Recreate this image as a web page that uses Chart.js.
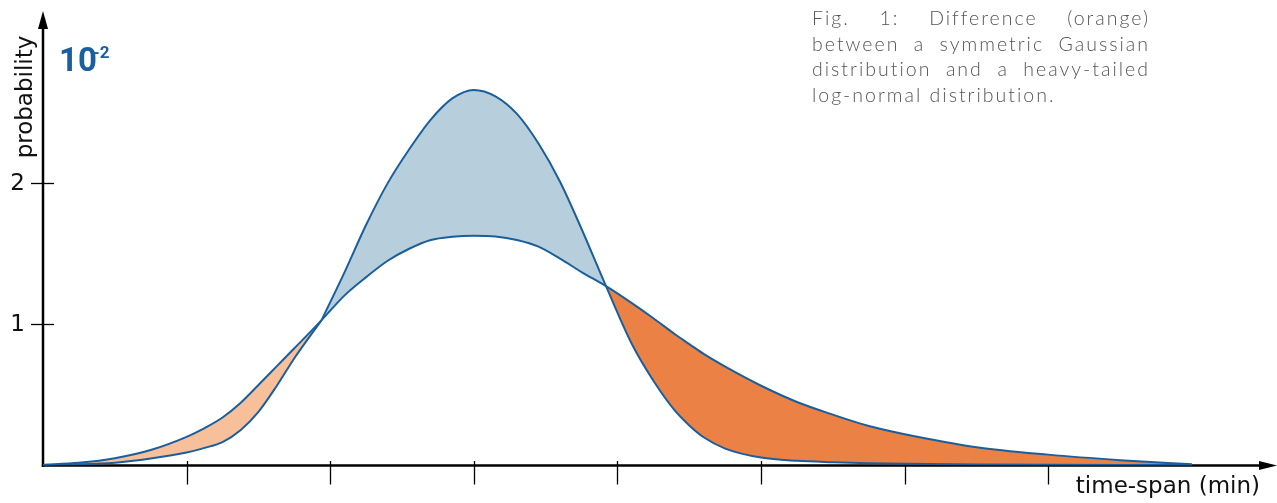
<!DOCTYPE html>
<html>
<head>
<meta charset="utf-8">
<script src="https://cdn.jsdelivr.net/npm/chart.js@4.4.1/dist/chart.umd.min.js"></script>
<style>
  html, body { margin: 0; padding: 0; background: #fff; }
  #wrap { position: relative; width: 1277px; height: 503px; }
  #caption { position: absolute; left: 812px; top: 5px; width: 338px; font: 300 19.5px 'Lato', 'Open Sans', sans-serif; letter-spacing: 2px; line-height: 25.7px; color: #555; }
  #caption div { text-align: justify; text-align-last: justify; white-space: nowrap; }
  #caption div.last { text-align-last: left; }
</style>
</head>
<body>
<div id="wrap">
  <canvas id="chart" width="1277" height="503"></canvas>
  <div id="caption">
    <div>Fig. 1: Difference (orange)</div>
    <div>between a symmetric Gaussian</div>
    <div>distribution and a heavy-tailed</div>
    <div class="last">log-normal distribution.</div>
  </div>
</div>
<script>
// time-span (axis units) sampled along both curves
const xs = [0, 0.25, 0.5, 0.75, 1.0, 1.125, 1.25, 1.375, 1.5, 1.625, 1.75, 1.94, 2.1, 2.25, 2.4, 2.55, 2.7, 2.85, 3.0,
  3.15, 3.3, 3.45, 3.6, 3.75, 3.92, 4.1, 4.25, 4.4, 4.5, 4.6, 4.75, 5.0, 5.25, 5.5, 5.75, 6.0, 6.5, 7.0, 7.5, 8.0];

// heavy-tailed log-normal (wide) curve, in 10^-2
const wideVals = [0.005, 0.02, 0.052, 0.11, 0.203, 0.265, 0.34, 0.443, 0.57, 0.70, 0.83, 1.03, 1.205, 1.334, 1.45, 1.535, 1.597, 1.62, 1.627,
  1.622, 1.597, 1.55, 1.465, 1.37, 1.27, 1.15, 1.043, 0.93, 0.86, 0.79, 0.70, 0.565, 0.45, 0.36, 0.28, 0.222, 0.13, 0.077, 0.038, 0.008];

// symmetric Gaussian (narrow) curve, in 10^-2
const narrowVals = [0.004, 0.008, 0.02, 0.05, 0.092, 0.125, 0.166, 0.25, 0.38, 0.56, 0.76, 1.03, 1.37, 1.705, 2.0, 2.24, 2.45, 2.6, 2.66,
  2.615, 2.49, 2.28, 2.01, 1.675, 1.27, 0.86, 0.6, 0.388, 0.284, 0.2, 0.12, 0.056, 0.033, 0.023, 0.016, 0.012, 0.007, 0.005, 0.004, 0.004];

const crossLeft = 1.94;
const yTicks = [1, 2];
const xTicks = [1, 2, 3, 4, 5, 6, 7];

const lineColor = '#1a5f9c';
const blueFill = '#b7cfdc';
const lightOrange = '#f8c09a';
const darkOrange = '#ec8145';
const labelFont = "400 23px 'DejaVu Sans', sans-serif";

const pts = (vals, keep) => xs.map((x, i) => ({ x: x, y: keep(x) ? vals[i] : null }));

const axesPlugin = {
  id: 'axes',
  beforeDatasetsDraw(chart) {
    const { ctx, scales: { x, y } } = chart;
    const x0 = x.getPixelForValue(0);
    const y0 = y.getPixelForValue(0);
    ctx.save();
    ctx.strokeStyle = '#000';
    ctx.fillStyle = '#000';
    ctx.lineWidth = 2.5;
    // y axis
    ctx.beginPath();
    ctx.moveTo(x0, y0 + 1.2);
    ctx.lineTo(x0, 26);
    ctx.stroke();
    ctx.beginPath();
    ctx.moveTo(x0, 11);
    ctx.lineTo(x0 - 5, 29);
    ctx.lineTo(x0 + 5, 29);
    ctx.closePath();
    ctx.fill();
    // x axis
    ctx.beginPath();
    ctx.moveTo(x0 - 1.2, y0);
    ctx.lineTo(1262, y0);
    ctx.stroke();
    ctx.beginPath();
    ctx.moveTo(1277, y0);
    ctx.lineTo(1259, y0 - 4.5);
    ctx.lineTo(1259, y0 + 4.5);
    ctx.closePath();
    ctx.fill();
    // ticks
    ctx.lineWidth = 1.3;
    xTicks.forEach(v => {
      const px = Math.round(x.getPixelForValue(v)) + 0.5;
      ctx.beginPath();
      ctx.moveTo(px, y0 - 4.5);
      ctx.lineTo(px, y0 + 19);
      ctx.stroke();
    });
    yTicks.forEach(v => {
      const py = Math.round(y.getPixelForValue(v)) + 0.5;
      ctx.beginPath();
      ctx.moveTo(31, py);
      ctx.lineTo(54, py);
      ctx.stroke();
    });
    ctx.restore();
  },
  afterDraw(chart) {
    const { ctx, scales: { y } } = chart;
    ctx.save();
    ctx.fillStyle = '#111';
    ctx.font = labelFont;
    ctx.textAlign = 'right';
    ctx.textBaseline = 'middle';
    yTicks.forEach(v => ctx.fillText(String(v), 25, y.getPixelForValue(v) + 1));
    // axis titles
    ctx.textBaseline = 'alphabetic';
    ctx.fillText('time-span (min)', 1260, 493);
    ctx.save();
    ctx.translate(32, 97);
    ctx.rotate(-Math.PI / 2);
    ctx.textAlign = 'center';
    ctx.fillText('probability', 0, 0);
    ctx.restore();
    // unit marker 10^-2
    ctx.fillStyle = '#1b5ea0';
    ctx.textAlign = 'left';
    ctx.font = "bold 33px 'Liberation Sans Narrow', 'Roboto', sans-serif";
    ctx.fillText('10', 59, 71);
    ctx.font = "bold 17px 'Liberation Sans Narrow', 'Roboto', sans-serif";
    ctx.fillText('-2', 93, 58);
    ctx.restore();
  }
};

new Chart(document.getElementById('chart'), {
  type: 'line',
  data: {
    datasets: [
      {
        label: 'log-normal',
        data: pts(wideVals, () => true),
        borderColor: lineColor,
        borderWidth: 2,
        fill: false
      },
      {
        label: 'Gaussian (right)',
        data: pts(narrowVals, x => x >= crossLeft),
        borderColor: lineColor,
        borderWidth: 2,
        fill: { target: 0, above: blueFill, below: darkOrange }
      },
      {
        label: 'Gaussian (left)',
        data: pts(narrowVals, x => x <= crossLeft),
        borderColor: lineColor,
        borderWidth: 2,
        fill: { target: 0, above: blueFill, below: lightOrange }
      }
    ]
  },
  options: {
    responsive: false,
    animation: false,
    events: [],
    layout: { padding: { left: 43, right: 1, top: 12, bottom: 37.5 } },
    elements: {
      point: { radius: 0 },
      line: { cubicInterpolationMode: 'monotone' }
    },
    plugins: {
      legend: { display: false },
      tooltip: { enabled: false }
    },
    scales: {
      x: { type: 'linear', min: 0, max: 8.585, display: false },
      y: { min: 0, max: 3.212, display: false }
    }
  },
  plugins: [axesPlugin]
});
</script>
</body>
</html>
